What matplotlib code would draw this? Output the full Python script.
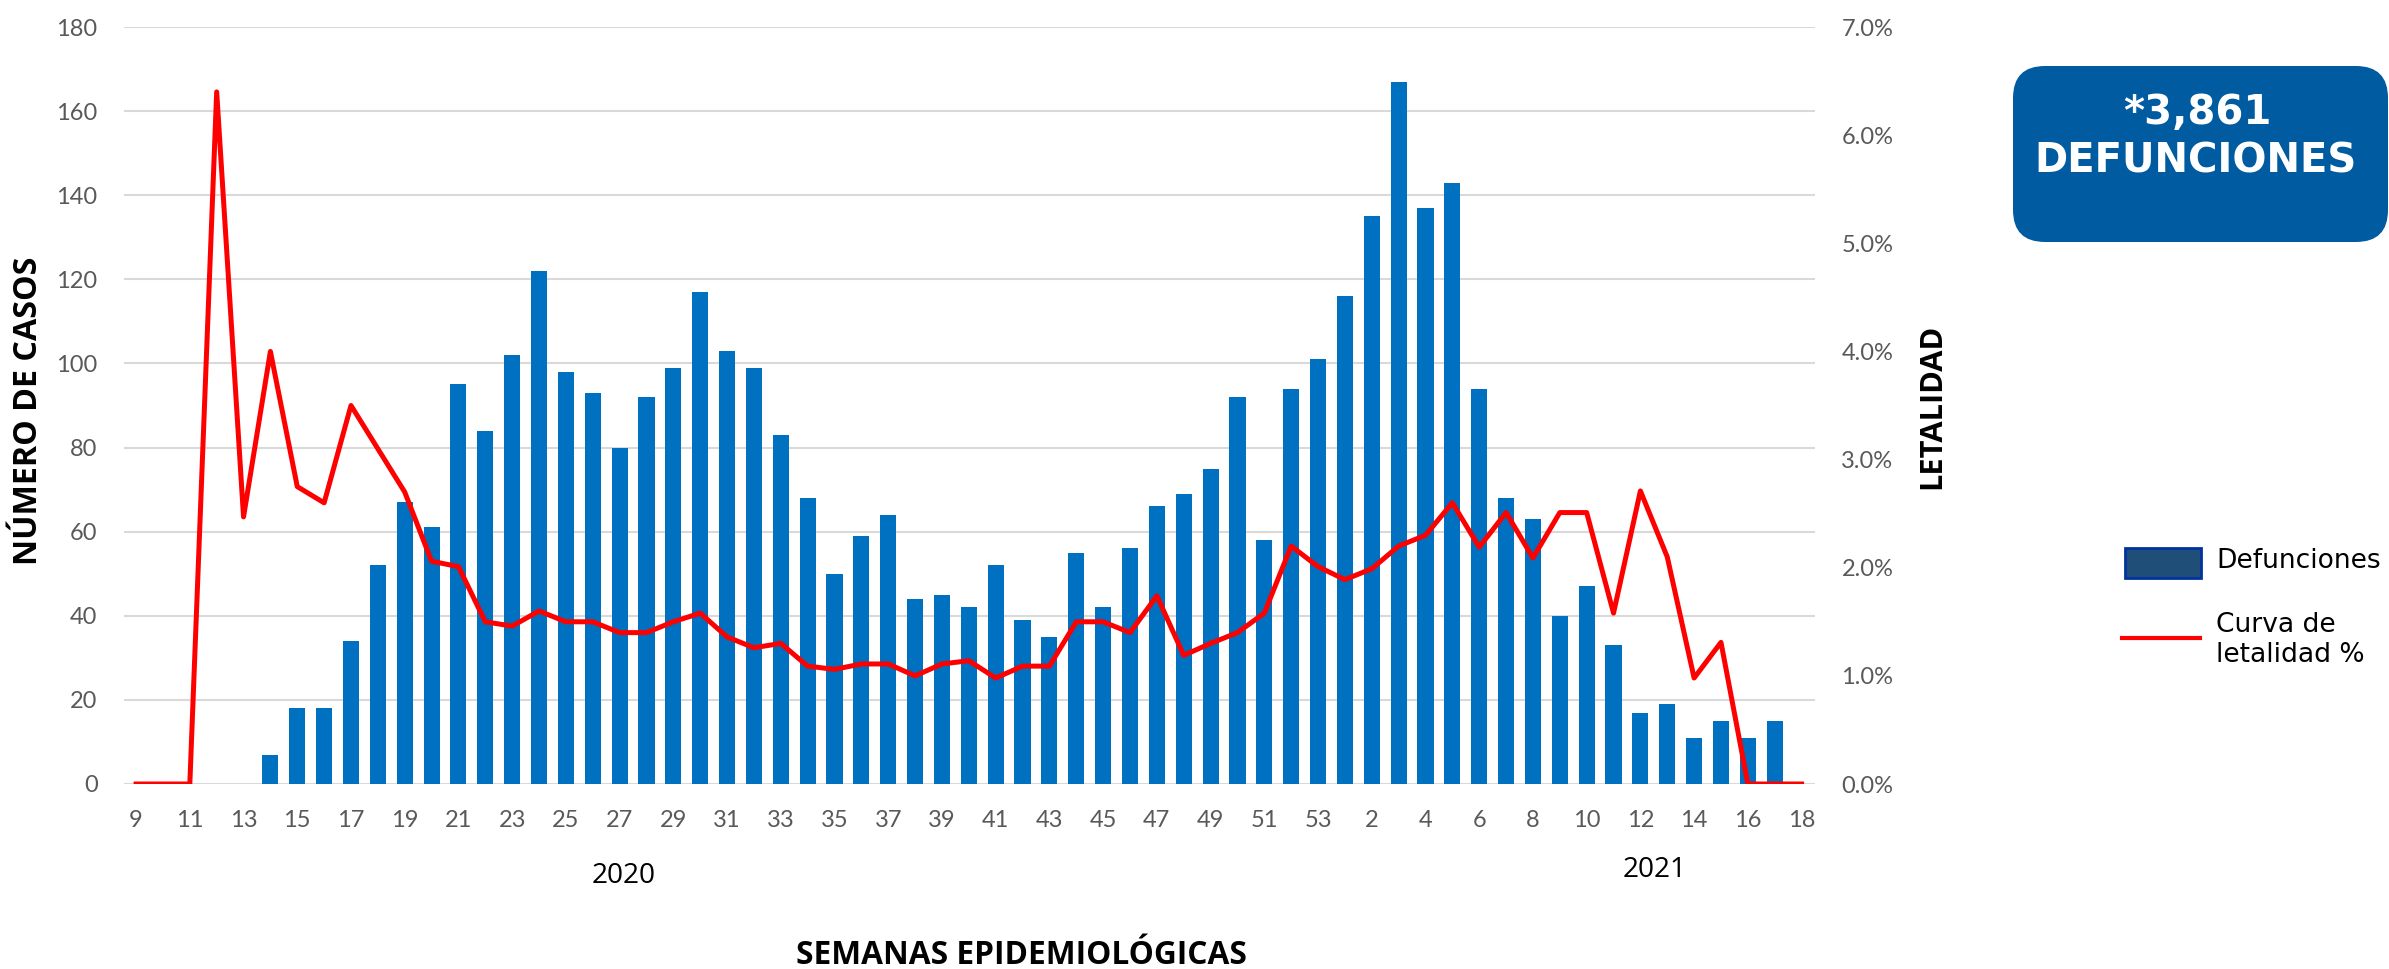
import matplotlib.pyplot as plt
from matplotlib.patches import FancyBboxPatch, Rectangle
from matplotlib.lines import Line2D
from matplotlib.ticker import FuncFormatter

# Weekly data: 2020 weeks 9-53, then 2021 weeks 1-18
weeks_2020 = list(range(9, 54))
weeks_2021 = list(range(1, 19))
weeks = [str(w) for w in weeks_2020 + weeks_2021]

defunciones = [0, 0, 0, 0, 0, 7, 18, 18, 34, 52, 67, 61, 95, 84, 102, 122, 98, 93, 80, 92,
               99, 117, 103, 99, 83, 68, 50, 59, 64, 44, 45, 42, 52, 39, 35, 55, 42, 56, 66, 69,
               75, 92, 58, 94, 101,
               116, 135, 167, 137, 143, 94, 68, 63, 40, 47, 33, 17, 19, 11, 15, 11, 15, 0]

letalidad = [0, 0, 0, 6.4, 2.47, 4.0, 2.75, 2.6, 3.5, 3.1, 2.7, 2.06, 2.01, 1.5, 1.46, 1.6, 1.5, 1.5,
             1.4, 1.4, 1.5, 1.58, 1.36, 1.26, 1.3, 1.09, 1.06, 1.11, 1.11, 1.0, 1.11, 1.14, 0.98,
             1.09, 1.09, 1.5, 1.5, 1.4, 1.74, 1.19, 1.3, 1.4, 1.58, 2.2, 2.01,
             1.89, 1.99, 2.2, 2.3, 2.6, 2.19, 2.51, 2.09, 2.51, 2.51, 1.58, 2.71, 2.1, 0.98, 1.31,
             0, 0, 0]

total_num = '*3,861'
total_lbl = 'DEFUNCIONES'

W, H = 2389, 969
fig = plt.figure(figsize=(W / 100, H / 100), dpi=100)
fig.patch.set_facecolor('white')
renderer = fig.canvas.get_renderer()


def fit(t, length, vertical=False):
    # scale the font so the text spans the given number of pixels
    bb = t.get_window_extent(renderer)
    cur = bb.height if vertical else bb.width
    t.set_fontsize(t.get_fontsize() * length / cur)


ax = fig.add_axes([124 / W, 1 - 784 / H, (1815 - 124) / W, (784 - 27) / H])
x = list(range(len(weeks)))

ax.bar(x, defunciones, width=0.6, color='#0070C0', zorder=2)
ax.set_ylim(0, 180)
ax.set_yticks(range(0, 181, 20))
ax.set_xlim(-0.45, len(weeks) - 0.5)
ax.set_xticks(x[::2])
ax.set_xticklabels(weeks[::2])
ax.grid(axis='y', color='#D9D9D9', linewidth=1.5, zorder=0)
ax.set_axisbelow(True)
for s in ax.spines.values():
    s.set_visible(False)
ax.tick_params(length=0, labelsize=17, labelcolor='#595959', pad=19)
for lab in ax.get_xticklabels() + ax.get_yticklabels():
    lab.set_family('Lato')

ax2 = ax.twinx()
ax2.plot(x, letalidad, color='#FF0000', linewidth=3.6, zorder=3)
ax2.set_ylim(0, 7)
ax2.set_yticks(range(0, 8))
ax2.yaxis.set_major_formatter(FuncFormatter(lambda v, p: f'{v:.1f}%'))
for s in ax2.spines.values():
    s.set_visible(False)
ax2.tick_params(length=0, labelsize=17, labelcolor='#595959', pad=19)
for lab in ax2.get_yticklabels():
    lab.set_family('Lato')

# axis titles
t = fig.text(29 / W, 1 - 411 / H, 'NÚMERO DE CASOS', rotation=90, ha='center', va='center',
             fontsize=19, fontweight='bold', family='Open Sans')
fit(t, 308, vertical=True)
t = fig.text(1932 / W, 1 - 406 / H, 'LETALIDAD', rotation=90, ha='center', va='center',
             fontsize=19, fontweight='bold', family='Open Sans')
fit(t, 165, vertical=True)
t = fig.text(1021 / W, 1 - 955 / H, 'SEMANAS EPIDEMIOLÓGICAS', ha='center', va='center',
             fontsize=22, fontweight='bold', family='Open Sans')
fit(t, 449)
t = fig.text(624 / W, 1 - 876 / H, '2020', ha='center', va='center', fontsize=17, family='Open Sans')
fit(t, 64)
t = fig.text(1655 / W, 1 - 870 / H, '2021', ha='center', va='center', fontsize=17, family='Open Sans')
fit(t, 64)

# total box
box = FancyBboxPatch((2013, H - 242), 375, 176, boxstyle='round,pad=0,rounding_size=32',
                     transform=None, facecolor='#005BA0', edgecolor='none')
fig.add_artist(box)
t1 = fig.text(2197 / W, 1 - 113 / H, total_num, ha='center', va='center', color='white',
              fontsize=28, fontweight='bold', family='DejaVu Sans')
t2 = fig.text(2196 / W, 1 - 162 / H, total_lbl, ha='center', va='center', color='white',
              fontsize=28, fontweight='bold', family='DejaVu Sans')
fit(t2, 323)
t1.set_fontsize(t2.get_fontsize())

# legend
fig.add_artist(Rectangle((2125, H - 578), 76, 30, transform=None,
                         facecolor='#1F4E79', edgecolor='#0033A0', linewidth=2))
fig.add_artist(Line2D([2122, 2200], [H - 638, H - 638], transform=None,
                      color='#FF0000', linewidth=3))
t = fig.text(2216 / W, 1 - 561 / H, 'Defunciones', ha='left', va='center', fontsize=18,
             family='DejaVu Sans')
fit(t, 165)
fig.text(2216 / W, 1 - 640 / H, 'Curva de\nletalidad %', ha='left', va='center',
         fontsize=t.get_fontsize(), family='DejaVu Sans', linespacing=1.2)

fig.savefig('out.png', dpi=100)
